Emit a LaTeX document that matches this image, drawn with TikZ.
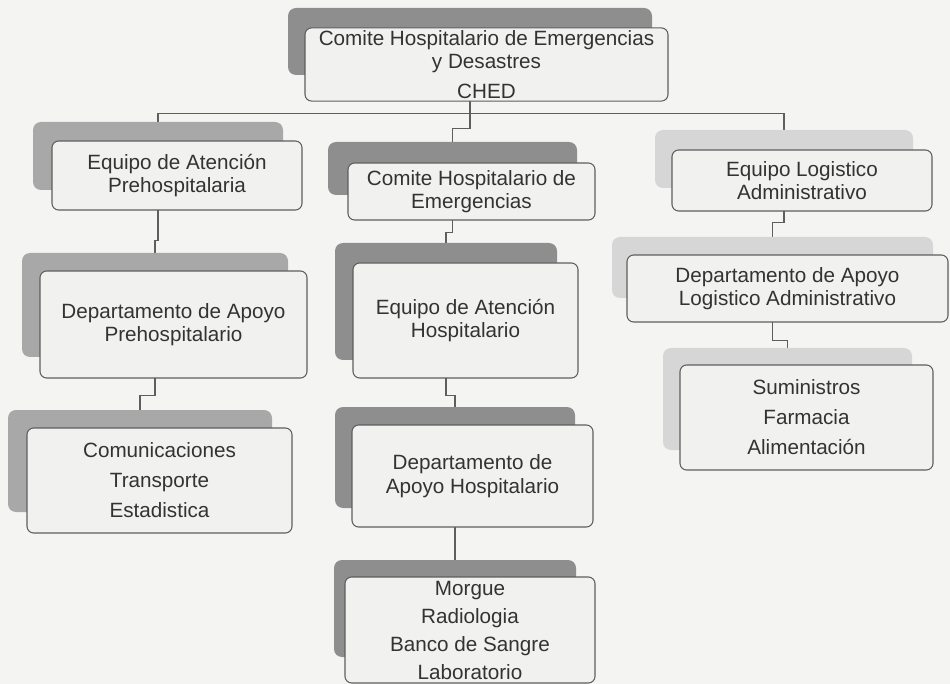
\documentclass[tikz,border=0pt]{standalone}
\usepackage{fontspec}
\setmainfont{Liberation Sans}
\usepackage{tikz}
\usetikzlibrary{backgrounds}
\definecolor{pagebg}{HTML}{F4F4F2}
\definecolor{boxbg}{HTML}{F1F1EF}
\definecolor{boxline}{HTML}{5E5E5E}
\definecolor{inkgrey}{HTML}{333333}
\definecolor{shadedark}{HTML}{8E8E8E}
\definecolor{shademid}{HTML}{A8A8A8}
\definecolor{shadelight}{HTML}{D6D6D6}
\tikzset{
  wh/.style 2 args={minimum width=#1*0.75pt, minimum height=#2*0.75pt},
  backbox/.style={fill=#1, draw=none, rounded corners=6pt, inner sep=0pt},
  frontbox/.style={
    draw=boxline, fill=boxbg, rounded corners=5pt, line width=0.8pt,
    align=center, inner sep=2pt, text=inkgrey,
    font=\fontsize{15.5pt}{17.5pt}\selectfont,
  },
  listbox/.style={frontbox, font=\fontsize{15.5pt}{22.5pt}\selectfont},
  link/.style={draw=boxline, line width=0.8pt},
}

\begin{document}
\begin{tikzpicture}[x=0.75pt, y=-0.75pt]
\useasboundingbox (0,0) rectangle (950,684);

% CHED
\node[backbox=shadedark, wh={364}{67}] (chedb) at (470,41.5) {};
\node[frontbox, wh={363}{71}] (ched) at (486.5,64.5)
  {Comite Hospitalario de Emergencias\\y Desastres\\[4.5pt]CHED};

% Left column
\node[backbox=shademid, wh={250}{68}] (l1b) at (158,156) {};
\node[frontbox, wh={250}{69}] (l1) at (177,175.5)
  {Equipo de Atención\\Prehospitalaria};

\node[backbox=shademid, wh={266}{104}] (l2b) at (155,305) {};
\node[frontbox, wh={267}{107}] (l2) at (173.5,324.5)
  {Departamento de Apoyo\\Prehospitalario};

\node[backbox=shademid, wh={264}{102}] (l3b) at (140,461) {};
\node[listbox, wh={265}{105}] (l3) at (159.5,480.5)
  {Comunicaciones\\Transporte\\Estadistica};

% Middle column
\node[backbox=shadedark, wh={249}{53}] (m1b) at (452.5,168.5) {};
\node[frontbox, wh={247}{57}] (m1) at (471.5,191.5)
  {Comite Hospitalario de\\Emergencias};

\node[backbox=shadedark, wh={222}{117}] (m2b) at (446,301.5) {};
\node[frontbox, wh={225}{115}] (m2) at (465.5,320.5)
  {Equipo de Atención\\Hospitalario};

\node[backbox=shadedark, wh={240}{101}] (m3b) at (455,457.5) {};
\node[frontbox, wh={241}{102}] (m3) at (472.5,476)
  {Departamento de\\Apoyo Hospitalario};

\node[backbox=shadedark, wh={242}{97}] (m4b) at (455,608.5) {};
\node[listbox, wh={250}{106}, font=\fontsize{15.5pt}{21pt}\selectfont] (m4) at (470,630)
  {Morgue\\Radiologia\\Banco de Sangre\\Laboratorio};

% Right column
\node[backbox=shadelight, wh={258}{58}] (r1b) at (784,159) {};
\node[frontbox, wh={260}{61}] (r1) at (802,180.5)
  {Equipo Logistico\\Administrativo};

\node[backbox=shadelight, wh={321}{61}] (r2b) at (772.5,267.5) {};
\node[frontbox, wh={321}{67}] (r2) at (787.5,288.5)
  {Departamento de Apoyo\\Logistico Administrativo};

\node[backbox=shadelight, wh={249}{102}] (r3b) at (787.5,399) {};
\node[listbox, wh={253}{105}] (r3) at (806.5,417.5)
  {Suministros\\Farmacia\\Alimentación};

% Connectors
\begin{scope}[on background layer]
\fill[pagebg] (0,0) rectangle (950,684);
\draw[link] (chedb.south) -- ++(0,38) -| (l1b.north);
\draw[link] (chedb.south) -- ++(0,38) -| (r1b.north);
\draw[link] (chedb.south) -- ++(0,53) -| (m1b.north);

\draw[link] (l1b.south) -- ++(0,50) -| (l2b.north);
\draw[link] (l2b.south) -- ++(0,38) -| (l3b.north);

\draw[link] (m1b.south) -- ++(0,37) -| (m2b.north);
\draw[link] (m2b.south) -- ++(0,35) -| (m3b.north);
\draw[link] (m3b.south) -- (m4b.north);

\draw[link] (r1b.south) -- ++(0,34) -| (r2b.north);
\draw[link] (r2b.south) -- ++(0,42) -| (r3b.north);
\end{scope}

\end{tikzpicture}
\end{document}
